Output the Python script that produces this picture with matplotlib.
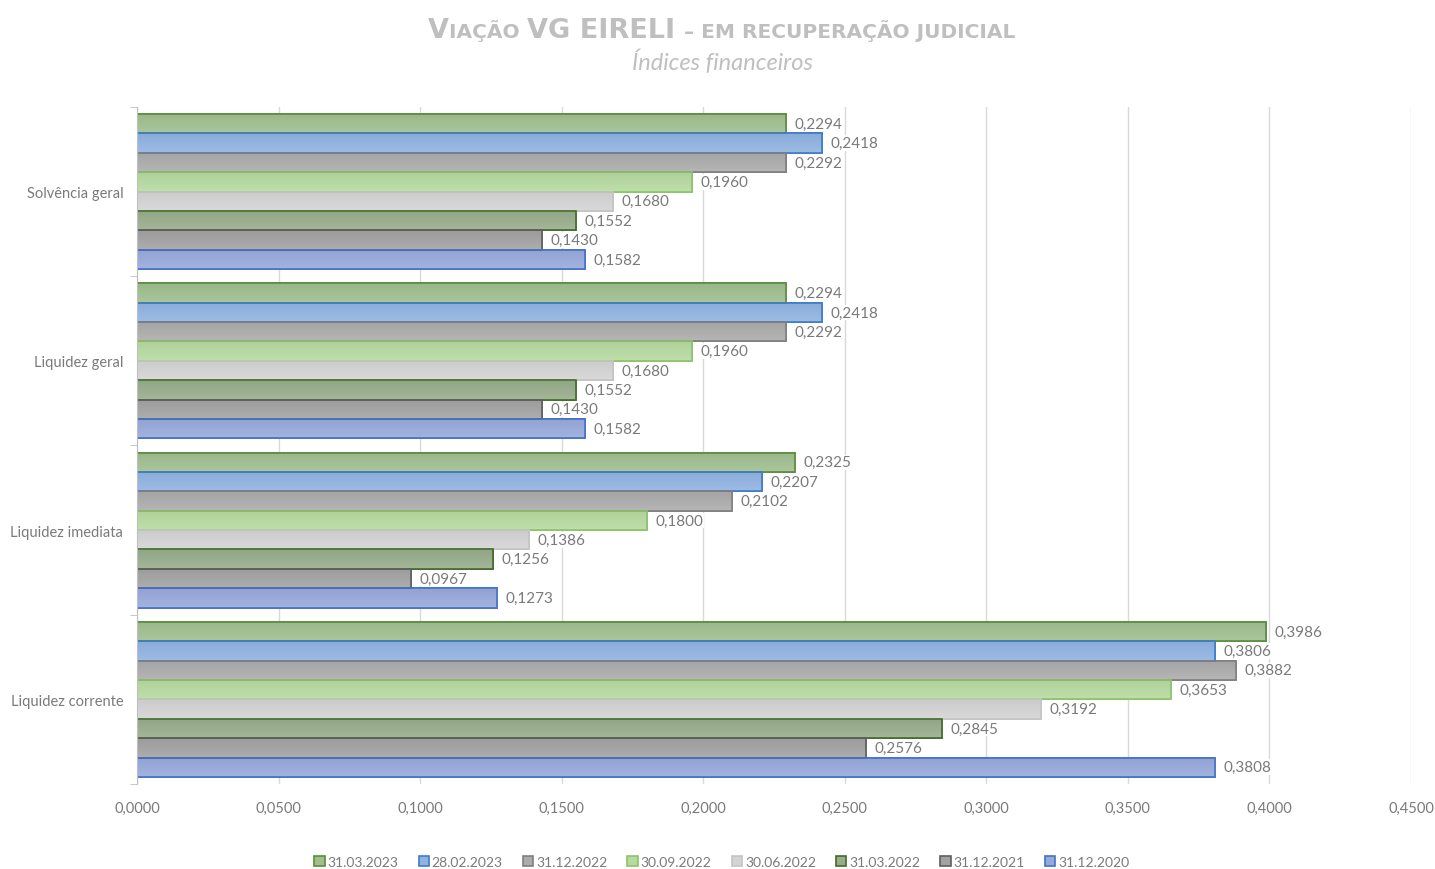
import matplotlib
matplotlib.use("Agg")
import matplotlib.pyplot as plt
import numpy as np
from matplotlib.colors import to_rgb

plt.rcParams["font.family"] = ["Lato", "DejaVu Sans"]

categories = ["Liquidez corrente", "Liquidez imediata", "Liquidez geral", "Solvência geral"]
series_names = ["31.03.2023", "28.02.2023", "31.12.2022", "30.09.2022",
                "30.06.2022", "31.03.2022", "31.12.2021", "31.12.2020"]
# values per series, in category order above
v_31_03_2023 = [0.3986, 0.2325, 0.2294, 0.2294]
v_28_02_2023 = [0.3806, 0.2207, 0.2418, 0.2418]
v_31_12_2022 = [0.3882, 0.2102, 0.2292, 0.2292]
v_30_09_2022 = [0.3653, 0.1800, 0.1960, 0.1960]
v_30_06_2022 = [0.3192, 0.1386, 0.1680, 0.1680]
v_31_03_2022 = [0.2845, 0.1256, 0.1552, 0.1552]
v_31_12_2021 = [0.2576, 0.0967, 0.1430, 0.1430]
v_31_12_2020 = [0.3808, 0.1273, 0.1582, 0.1582]
series_values = [v_31_03_2023, v_28_02_2023, v_31_12_2022, v_30_09_2022,
                 v_30_06_2022, v_31_03_2022, v_31_12_2021, v_31_12_2020]
xticks = [0.0, 0.05, 0.10, 0.15, 0.20, 0.25, 0.30, 0.35, 0.40, 0.45]

fills = ["#9fbf8f", "#8fb3e2", "#ababab", "#b6da9f", "#d4d4d4", "#97ad8b", "#a2a2a2", "#97a9dc"]
edges = ["#5b8c3c", "#3d7cc9", "#7f7f7f", "#8cc36a", "#c4c4c4", "#416b2c", "#5f5f5f", "#4472c4"]

fig = plt.figure(figsize=(14.35, 8.7), dpi=100)
ax = fig.add_axes([0.0955, 0.0977, 0.9833 - 0.0955, 0.8759 - 0.0977])

n = len(series_names)
h = 0.1145
label_color = "#7a7a7a"
fs = 10

def lighten(c, f):
    r = np.array(to_rgb(c))
    return r + (1 - r) * f

for i, (name, vals) in enumerate(zip(series_names, series_values)):
    offs = (n - 1) / 2 * h - i * h
    ys = np.arange(len(categories)) + offs
    bars = ax.barh(ys, vals, height=h, color=fills[i], edgecolor=edges[i],
                   linewidth=1.2, label=name, zorder=3)
    for b, v, y in zip(bars, vals, ys):
        top = np.array(lighten(fills[i], 0.12))
        bot = np.array(to_rgb(fills[i])) * 0.96
        grad = np.linspace(0, 1, 32)[:, None, None]
        img = top * (1 - grad) + bot * grad
        im = ax.imshow(img, extent=[0, v, y + h / 2, y - h / 2], aspect="auto",
                       zorder=3.5, interpolation="bilinear", origin="upper")
        im.set_clip_path(b)
        ax.add_patch(plt.Rectangle((0, y - h / 2), v, h, fill=False,
                                   edgecolor=edges[i], linewidth=1.2, zorder=4))
        ax.text(v + 0.003, y, f"{v:.4f}".replace(".", ","), va="center", ha="left",
                fontsize=11, color=label_color, zorder=5,
                bbox=dict(boxstyle="square,pad=0.05", fc="white", ec="none"))

ax.set_xlim(0, 0.45)
ax.set_ylim(-0.5, len(categories) - 0.5)
ax.set_xticks(xticks)
ax.set_xticklabels([f"{t:.4f}".replace(".", ",") for t in xticks], fontsize=10.5, color=label_color)
ax.set_yticks(range(len(categories)))
ax.set_yticklabels(categories, fontsize=10.5, color=label_color)
ax.set_yticks(np.arange(-0.5, len(categories), 1.0), minor=True)
ax.tick_params(axis="y", which="major", length=0, pad=10)
ax.tick_params(axis="y", which="minor", length=5, color="#bfbfbf", direction="out")
ax.tick_params(axis="x", length=0, pad=12)
ax.grid(axis="x", color="#d9d9d9", linewidth=1, zorder=0)
ax.set_axisbelow(True)
for s in ["top", "right", "bottom"]:
    ax.spines[s].set_visible(False)
ax.spines["left"].set_color("#bfbfbf")
ax.spines["left"].set_zorder(6)

leg = fig.legend(loc="center", bbox_to_anchor=(0.503, 0.008), ncol=8, frameon=False,
                 fontsize=fs, handlelength=0.75, handleheight=0.75, handletextpad=0.2,
                 columnspacing=1.45, borderaxespad=0)
for t in leg.get_texts():
    t.set_color(label_color)

# Title with small caps emulation
tcol = "#bfbfbf"
pieces = [("V", 19.5), ("IAÇÃO ", 14.5), ("VG EIRELI ", 19.5), ("– EM RECUPERAÇÃO JUDICIAL", 14.5)]
fig.canvas.draw()
r = fig.canvas.get_renderer()
texts = []
for s, size in pieces:
    t = fig.text(0, 1 - 38 / 870, s, fontsize=size, fontweight="bold", color=tcol,
                 ha="left", va="baseline", family="DejaVu Sans")
    texts.append(t)
widths = [t.get_window_extent(r).width for t in texts]
total = sum(widths)
x0 = 722 - total / 2
for t, w in zip(texts, widths):
    t.set_x(x0 / 1435)
    x0 += w
fig.text(722 / 1435, 1 - 62 / 870, "Índices financeiros", fontsize=17, style="italic",
         color=tcol, ha="center", va="center")

fig.savefig("out.png", dpi=100, facecolor="white")
